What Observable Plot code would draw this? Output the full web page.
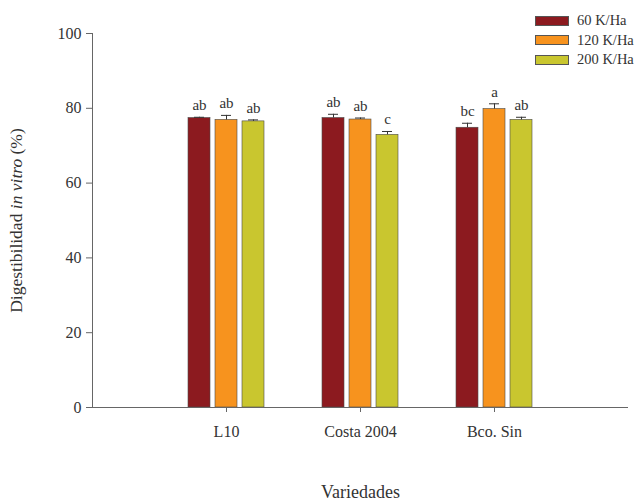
<!DOCTYPE html>
<html>
<head>
<meta charset="utf-8">
<script src="https://cdn.jsdelivr.net/npm/d3@7"></script>
<script src="https://cdn.jsdelivr.net/npm/@observablehq/plot@0.6"></script>
<style>
  html, body { margin: 0; padding: 0; background: #fff; overflow: hidden; }
  #wrap { position: relative; width: 636px; height: 501px; font-family: "Liberation Serif", "DejaVu Serif", serif; }
  #legend { position: absolute; left: 535px; top: 11px; width: 101px; font-size: 14.5px; color: #333; white-space: nowrap; }
  #legend .row { display: flex; align-items: center; height: 19.5px; white-space: nowrap; }
  #legend .sw { flex: none; width: 34px; height: 10px; border: 0.7px solid #555; margin-right: 8px; box-sizing: border-box; }
</style>
</head>
<body>
<div id="wrap"><div id="legend"></div></div>
<script>
const categories = ["L10", "Costa 2004", "Bco. Sin"];
const doses = ["60 K/Ha", "120 K/Ha", "200 K/Ha"];
const val60 = [77.4, 77.4, 74.8];
const val120 = [76.9, 77.0, 79.8];
const val200 = [76.5, 72.9, 76.9];
const err60 = [0.2, 1.0, 1.2];
const err120 = [1.2, 0.4, 1.4];
const err200 = [0.4, 0.9, 0.7];
const letters60 = ["ab", "ab", "bc"];
const letters120 = ["ab", "ab", "a"];
const letters200 = ["ab", "c", "ab"];
const colors = ["#8c1a1f", "#f7931e", "#c9c62f"];
const yTicks = [0, 20, 40, 60, 80, 100];

const series = [
  {dose: doses[0], values: val60, errs: err60, letters: letters60},
  {dose: doses[1], values: val120, errs: err120, letters: letters120},
  {dose: doses[2], values: val200, errs: err200, letters: letters200}
];
const offsets = [-27, 0, 27];
const font = "Liberation Serif, DejaVu Serif, serif";

const marks = [];
series.forEach((s, i) => {
  const rows = categories.map((c, j) => ({cat: c, value: s.values[j], err: s.errs[j], letter: s.letters[j]}));
  marks.push(
    Plot.barY(rows, {x: "cat", y: "value", fill: colors[i], stroke: "#4a4a4a", strokeWidth: 0.6, insetLeft: 56, insetRight: 56, dx: offsets[i]}),
    Plot.ruleX(rows, {x: "cat", y1: "value", y2: d => d.value + d.err, stroke: "#333", strokeWidth: 1, dx: offsets[i]}),
    Plot.tickY(rows, {x: "cat", y: d => d.value + d.err, stroke: "#333", strokeWidth: 1, insetLeft: 62, insetRight: 62, dx: offsets[i]}),
    Plot.text(rows, {x: "cat", y: d => d.value + d.err, text: "letter", dx: offsets[i], dy: -12, fontSize: 15, fill: "#333", fontFamily: font})
  );
});

const chart = Plot.plot({
  width: 636,
  height: 501,
  marginLeft: 92,
  marginRight: 8,
  marginTop: 33,
  marginBottom: 94,
  style: {fontFamily: font, fontSize: "16px", color: "#333", background: "transparent"},
  x: {type: "band", domain: categories, paddingInner: 0, paddingOuter: 0.5},
  y: {domain: [0, 100]},
  marks: [
    ...marks,
    Plot.ruleY([0], {stroke: "#666", strokeWidth: 1}),
    Plot.frame({anchor: "left", stroke: "#666", strokeWidth: 1}),
    Plot.axisY({ticks: yTicks, tickSize: 6, tickPadding: 5, stroke: "#666", fontSize: 16, label: "Digestibilidad in vitro (%)", labelAnchor: "center", labelOffset: 83, labelArrow: false}),
    Plot.axisX({tickSize: 5, tickPadding: 13, stroke: "#666", fontSize: 16, label: "Variedades", labelAnchor: "center", labelOffset: 90, labelArrow: false})
  ]
});
document.getElementById("wrap").prepend(chart);

// italicize "in vitro" in the y label
d3.select(chart).selectAll("text").each(function () {
  const t = d3.select(this);
  if (t.text() === "Digestibilidad in vitro (%)") {
    t.text(null);
    t.append("tspan").text("Digestibilidad ");
    t.append("tspan").attr("font-style", "italic").text("in vitro");
    t.append("tspan").text(" (%)");
    t.attr("font-size", 17.5);
  } else if (t.text() === "Variedades") {
    t.attr("font-size", 18);
  }
});

const legend = d3.select("#legend");
doses.forEach((d, i) => {
  const row = legend.append("div").attr("class", "row");
  row.append("div").attr("class", "sw").style("background", colors[i]);
  row.append("span").text(d);
});
</script>
</body>
</html>
